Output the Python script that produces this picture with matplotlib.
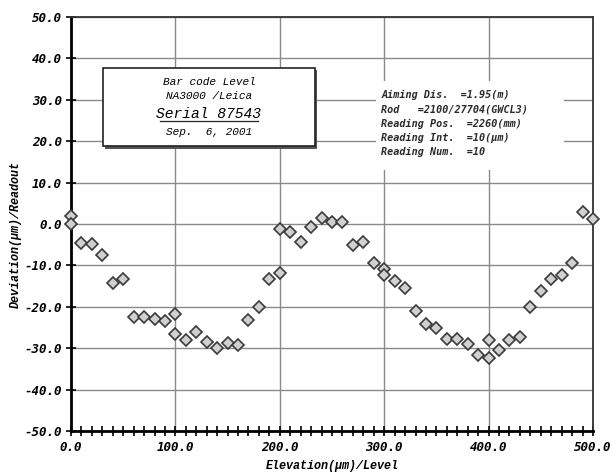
import matplotlib
matplotlib.use("Agg")
import matplotlib.pyplot as plt
import numpy as np
from matplotlib.ticker import MultipleLocator, FormatStrFormatter

# Elevation (um) and deviation (um)
elevation = [0, 0, 10, 20, 30, 40, 50, 60, 70, 80, 90, 100, 100,
             110, 120, 130, 140, 150, 160, 170, 180, 190, 200, 200,
             210, 220, 230, 240, 250, 260, 270, 280, 290, 300, 300,
             310, 320, 330, 340, 350, 360, 370, 380, 390, 400, 400,
             410, 420, 430, 440, 450, 460, 470, 480, 490, 500]
deviation = [2.0, 0.0, -4.5, -4.8, -7.6, -14.2, -13.2, -22.4, -22.4, -23.0, -23.4, -21.8, -26.5,
             -27.9, -26.1, -28.6, -30.0, -28.8, -29.3, -23.3, -20.1, -13.4, -11.8, -1.2,
             -2.0, -4.4, -0.8, 1.4, 0.5, 0.6, -5.1, -4.3, -9.3, -10.9, -12.2,
             -13.8, -15.4, -20.9, -24.2, -25.0, -27.8, -27.8, -28.9, -31.6, -28.0, -32.3,
             -30.4, -28.0, -27.3, -20.0, -16.3, -13.2, -12.2, -9.3, 2.8, 1.1]

title_lines = ["Bar code Level", "NA3000 /Leica", "Serial 87543", "Sep.  6, 2001"]
info_lines = ["Aiming Dis.  =1.95(m)",
              "Rod   =2100/27704(GWCL3)",
              "Reading Pos.  =2260(mm)",
              "Reading Int.  =10(\u03bcm)",
              "Reading Num.  =10"]

fig = plt.figure(figsize=(6.13, 4.76), dpi=100)
ax = fig.add_axes([0.1158, 0.0945, 0.8516, 0.8698])

ax.plot(elevation, deviation, linestyle="none", marker="D", markersize=5.8,
        markerfacecolor="#d0d0d0", markeredgecolor="#3a3a3a", markeredgewidth=1.2,
        zorder=5, clip_on=False)

ax.set_xlim(0, 500)
ax.set_ylim(-50, 50)
ax.xaxis.set_major_locator(MultipleLocator(100))
ax.xaxis.set_minor_locator(MultipleLocator(10))
ax.yaxis.set_major_locator(MultipleLocator(10))
ax.xaxis.set_major_formatter(FormatStrFormatter("%.1f"))
ax.yaxis.set_major_formatter(FormatStrFormatter("%.1f"))

ax.grid(True, which="major", color="#8a8a8a", linewidth=1.0)
ax.set_axisbelow(True)

tick_font = dict(family="DejaVu Sans Mono", weight="bold", style="italic", size=9)
for lab in ax.get_xticklabels() + ax.get_yticklabels():
    lab.set_fontproperties(matplotlib.font_manager.FontProperties(**tick_font))

ax.tick_params(axis="both", which="both", direction="inout", color="black", width=1.2)
ax.tick_params(axis="x", which="major", length=7, pad=4)
ax.tick_params(axis="x", which="minor", length=7)
ax.tick_params(axis="y", which="major", length=7, pad=3)

ax.spines["left"].set_linewidth(2.0)
ax.spines["bottom"].set_linewidth(2.0)
ax.spines["top"].set_linewidth(1.3)
ax.spines["right"].set_linewidth(1.3)
ax.spines["top"].set_color("#333333")
ax.spines["right"].set_color("#333333")

label_font = dict(family="Liberation Mono", weight="bold", style="italic", size=8.5)
ax.set_xlabel("Elevation(\u03bcm)/Level", labelpad=4, **label_font)
ax.set_ylabel("Deviation(\u03bcm)/Readout", **label_font)
ax.yaxis.set_label_coords(-0.095, 0.475)

# boxed title with shadow
bx0, bx1, by0, by1 = 30.6, 233.7, 18.8, 37.7
ax.add_patch(plt.Rectangle((bx0 + 1.6, by0 - 0.6), bx1 - bx0, by1 - by0,
                           facecolor="#555555", edgecolor="none", zorder=6))
ax.add_patch(plt.Rectangle((bx0, by0), bx1 - bx0, by1 - by0,
                           facecolor="white", edgecolor="#222222", linewidth=1.2, zorder=7))
cx = (bx0 + bx1) / 2
box_font = dict(family="Liberation Mono", style="italic", ha="center", va="center", zorder=8)
ax.text(cx, 34.3, title_lines[0], size=8, **box_font)
ax.text(cx, 30.9, title_lines[1], size=8, **box_font)
ax.text(cx, 26.5, title_lines[2], size=10.5, **box_font)
ax.plot([cx - 47, cx + 47], [24.9, 24.9], color="#222222", linewidth=0.9, zorder=8)
ax.text(cx, 22.3, title_lines[3], size=8, **box_font)

# measurement conditions
ax.add_patch(plt.Rectangle((292.5, 13.0), 179.5, 21.5, facecolor="white",
                           edgecolor="none", zorder=3))
y0 = 31.1
for i, line in enumerate(info_lines):
    ax.text(297, y0 - i * 3.45, line, family="DejaVu Sans Mono", style="italic",
            weight="bold", size=7.3, ha="left", va="center", zorder=4,
            color="#2a2a2a")

fig.savefig("out.png", dpi=100)
